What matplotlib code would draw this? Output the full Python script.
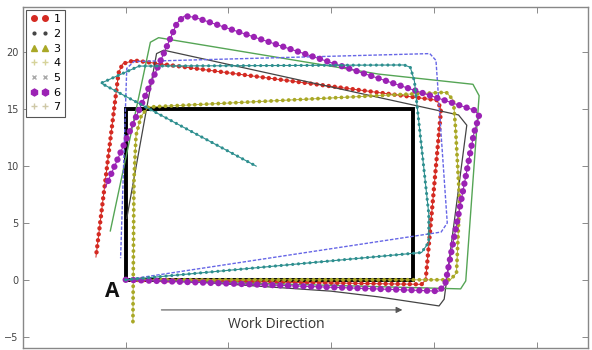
import matplotlib
matplotlib.use('Agg')
import matplotlib.pyplot as plt
from matplotlib.lines import Line2D

# reference path (black rectangle) and the 7 recorded runs, all starting at A = (0, 0)
rect_x = [0, 0, 28, 28, 0]
rect_y = [0, 15, 15, 0, 0]

x1 = [0, 28.8, 29.2, 30.7, 30.3, 0.8, -0.3, -0.7, -2.9]
y1 = [0, -0.4, 0, 15.0, 15.8, 19.3, 19.0, 18.2, 2.0]

x2 = [0, 7.1, 20.0, 24.6, 30.5, 31.0, 33.2, 32.4, 3.7, 3.0, 0.1]
y2 = [0, -0.2, -1.0, -1.5, -2.3, -1.7, 13.6, 14.5, 20.2, 19.9, 5.4]

x3 = [0, 31.6, 32.2, 32.5, 32.1, 31.9, 31.2, 2.2, 1.5, 1.0, 0.8, 0.7]
y3 = [0, 0, 0.6, 7.0, 13.4, 15.8, 16.5, 15.2, 14.4, 12.7, 8.7, -3.8]

x4 = [0, 32.6, 33.1, 34.4, 33.8, 24.6, 3.2, 2.4, -1.5]
y4 = [0, -0.8, -0.1, 16.2, 17.2, 18.1, 21.3, 20.9, 4.3]

x5 = [0, 30.7, 31.3, 30.2, 29.6, 0.8, 0.1, -0.5]
y5 = [0, 4.2, 5.0, 19.3, 19.9, 19.2, 18.6, 1.9]

x6 = [0, 30.5, 31.1, 33.9, 34.4, 34.0, 6.7, 5.7, 5.0, -2.0]
y6 = [0, -1.0, -0.4, 12.9, 14.4, 14.9, 23.1, 23.2, 22.6, 8.1]

x7 = [0, 28.8, 29.5, 29.5, 28.1, 27.7, 27.1, 1.3, -2.4, 12.7]
y7 = [0, 2.4, 3.3, 5.8, 17.5, 18.7, 18.9, 18.8, 17.3, 10.0]

labels = ['1', '2', '3', '4', '5', '6', '7']
yticks = [-5, 0, 5, 10, 15, 20]
xticks = [0, 10, 20, 30, 40]

red = '#d42a22'
dark = '#444444'
olive = '#a9a826'
green = '#55a555'
blue = '#6666e6'
purple = '#9b22b4'
teal = '#2e8f8f'

fig = plt.figure(figsize=(5.92, 3.5), dpi=100)
ax = fig.add_axes([23 / 592, 2 / 350, 565 / 592, 341 / 350])

ax.plot(rect_x, rect_y, color='black', lw=2.8, zorder=2, solid_joinstyle='miter')

# dotted "marker" runs: round-capped zero length dashes
ax.plot(x1, y1, color=red, lw=0.7, zorder=3)
ax.plot(x1, y1, color=red, lw=3.2, ls=(0, (0.01, 1.35)), dash_capstyle='round', zorder=3)

ax.plot(x2, y2, color=dark, lw=0.9, zorder=3)

ax.plot(x3, y3, color=olive, lw=0.6, zorder=3)
ax.plot(x3, y3, color=olive, lw=2.8, ls=(0, (0.01, 1.5)), dash_capstyle='round', zorder=3)

ax.plot(x4, y4, color=green, lw=1.0, zorder=3)

ax.plot(x5, y5, color=blue, lw=1.0, ls=(0, (2.5, 1.2)), zorder=3)

ax.plot(x6, y6, color=purple, lw=0.8, zorder=3)
ax.plot(x6, y6, color=purple, lw=4.6, ls=(0, (0.01, 1.2)), dash_capstyle='round', zorder=3)

ax.plot(x7, y7, color=teal, lw=0.8, zorder=3)
ax.plot(x7, y7, color=teal, lw=2.3, ls=(0, (0.01, 1.8)), dash_capstyle='round', zorder=3)

ax.set_xlim(-10, 45)
ax.set_ylim(-6, 24)
ax.set_xticks(xticks)
ax.set_xticklabels([])
ax.set_yticks(yticks)
ax.set_yticklabels(['\u22125', '0', '5', '10', '15', '20'])
ax.tick_params(direction='in', top=True, right=True, length=4, width=0.6,
               color='#777777', labelsize=7, labelcolor='#444444', pad=3)
for s in ax.spines.values():
    s.set_color('#888888')
    s.set_linewidth(1.0)

ax.text(-1.3, -1.0, 'A', fontsize=15, fontweight='bold', family='Open Sans',
        ha='center', va='center', color='#111111')
ax.annotate('', xy=(27.2, -2.65), xytext=(3.2, -2.65),
            arrowprops=dict(arrowstyle='-|>', color='#555555', lw=0.8, mutation_scale=9))
ax.text(14.7, -3.9, 'Work Direction', fontsize=10, family='Open Sans',
        ha='center', va='center', color='#333333')

handles = [
    Line2D([], [], ls='None', marker='o', ms=4, color=red),
    Line2D([], [], ls='None', marker='.', ms=4, color=dark),
    Line2D([], [], ls='None', marker='^', ms=4, color=olive),
    Line2D([], [], ls='None', marker='+', ms=4, color='#d6d39a'),
    Line2D([], [], ls='None', marker='x', ms=3.5, color='#aaaaaa'),
    Line2D([], [], ls='None', marker='h', ms=5, color=purple),
    Line2D([], [], ls='None', marker='+', ms=4, color='#cfc9a8'),
]
leg = ax.legend(handles, labels, loc='upper left', numpoints=2, fontsize=8,
                handlelength=1.6, handletextpad=0.5, labelspacing=0.42,
                borderaxespad=0.25, borderpad=0.4, fancybox=False, framealpha=1)
leg.get_frame().set_edgecolor('#555555')
leg.get_frame().set_linewidth(0.8)

plt.savefig('out.png', dpi=100)
plt.close()
